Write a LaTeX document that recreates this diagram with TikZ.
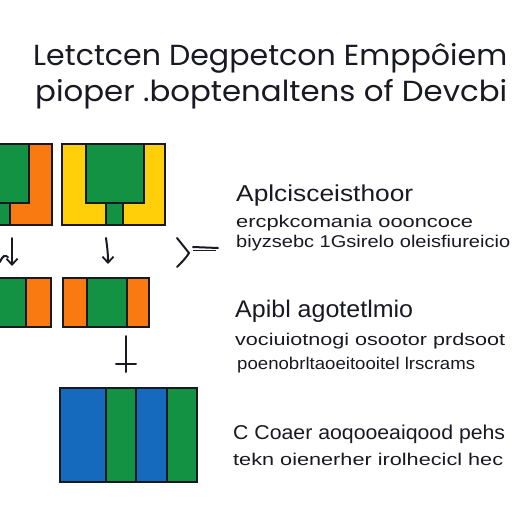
\documentclass[tikz,border=0pt]{standalone}
\usepackage{fontspec}
\setmainfont{Liberation Sans}
\newfontfamily\titlefont{Poppins}
\usetikzlibrary{arrows.meta}
\definecolor{gr}{RGB}{18,146,66}
\definecolor{orr}{RGB}{250,122,18}
\definecolor{yl}{RGB}{255,208,10}
\definecolor{bl}{RGB}{22,106,190}
\definecolor{ink}{RGB}{25,25,35}
\newcommand\wtext[3]{\resizebox{#1}{\height}{\fontsize{#2}{#2}\selectfont #3}}
\begin{document}
\begin{tikzpicture}[x=1pt,y=-1pt,
  box/.style={draw=ink,line width=2pt},
  txt/.style={anchor=base west,inner sep=0pt,text=ink},
  stroke/.style={draw=ink,line width=2pt,line cap=round},
  arr/.style={stroke,-{Straight Barb[length=6pt,width=11pt,line width=1.8pt]}}
]
\useasboundingbox (0,0) rectangle (512,512);
\fill[white] (0,0) rectangle (512,512);

% ---- title
\node[txt] (t1) at (33,65) {\titlefont\wtext{474pt}{29pt}{Letctcen Degpetcon Emppôiem}};
\node[txt] (t2) at (35,101) {\titlefont\wtext{472pt}{29pt}{pioper .boptenaltens of Devcbi}};

% ---- box 1 (top left)
\fill[orr] (-3,144) rectangle (52,225);
\fill[gr] (-3,144) rectangle (29,203);
\fill[gr] (-3,203) rectangle (10,225);
\draw[box] (-3,144) rectangle (29,203);
\draw[box] (10,203) -- (10,225);
\draw[box] (-3,144) rectangle (52,225);

% ---- box 2 (top middle)
\fill[yl] (62,144) rectangle (165,225);
\fill[gr] (86,144) rectangle (144,203);
\fill[gr] (106,203) rectangle (123,225);
\draw[box] (86,144) rectangle (144,203);
\draw[box] (106,203) rectangle (123,225);
\draw[box] (62,144) rectangle (165,225);

% ---- row 2 box A
\fill[gr] (-3,278) rectangle (26,327);
\fill[orr] (26,278) rectangle (51,327);
\draw[box] (26,278) -- (26,327);
\draw[box] (-3,278) rectangle (51,327);

% ---- row 2 box B
\fill[orr] (63,278) rectangle (87,327);
\fill[gr] (87,278) rectangle (127,327);
\fill[orr] (127,278) rectangle (149,327);
\draw[box] (87,278) -- (87,327);
\draw[box] (127,278) -- (127,327);
\draw[box] (63,278) rectangle (149,327);

% ---- bottom box
\fill[bl] (60,388) rectangle (106,482);
\fill[gr] (106,388) rectangle (136,482);
\fill[bl] (136,388) rectangle (167,482);
\fill[gr] (167,388) rectangle (197,482);
\draw[box] (106,388) -- (106,482);
\draw[box] (136,388) -- (136,482);
\draw[box] (167,388) -- (167,482);
\draw[box] (60,388) rectangle (197,482);

% ---- connectors
\coordinate (a1s) at (12,238);
\coordinate (a1e) at (12,266);
\draw[arr] (a1s) -- (a1e);
\coordinate (sq0) at (0,262);
\coordinate (sq1) at (8,257);
\draw[stroke] (sq0) .. controls (3,255) and (5,255) .. (sq1);

\coordinate (a2s) at (106,238);
\coordinate (a2e) at (108,264);
\draw[arr] (a2s) .. controls (107,246) and (108,252) .. (a2e);

\coordinate (f0) at (177,238);
\coordinate (f1) at (189,253);
\coordinate (f2) at (177,267);
\coordinate (f3) at (218,248);
\draw[stroke] (f0) -- (f1);
\draw[stroke] (f2) .. controls (182,262) and (186,258) .. (f1);
\draw[stroke] (193,247) -- (f3);
\draw[draw=ink,line width=1pt] (193,250) -- (216,250);

\coordinate (c0) at (126,336);
\coordinate (c1) at (126,372);
\coordinate (h0) at (116,364);
\coordinate (h1) at (136,364);
\draw[stroke] (c0) -- (c1);
\draw[stroke] (h0) -- (h1);

% ---- text block 1
\node[txt] (b1h) at (236,201) {\wtext{177pt}{23pt}{Aplcisceisthoor}};
\node[txt] (b1a) at (236,227) {\wtext{237pt}{17pt}{ercpkcomania oooncoce}};
\node[txt] (b1b) at (236,247) {\wtext{274pt}{17pt}{biyzsebc 1Gsirelo oleisfiureicio}};

% ---- text block 2
\node[txt] (b2h) at (235,317) {\wtext{178pt}{24pt}{Apibl agotetlmio}};
\node[txt] (b2a) at (235,345) {\wtext{270pt}{17pt}{vociuiotnogi osootor prdsoot}};
\node[txt] (b2b) at (237,369) {\wtext{238pt}{17pt}{poenobrltaoeitooitel lrscrams}};

% ---- text block 3
\node[txt] (b3h) at (233,439) {\wtext{272pt}{20pt}{C Coaer aoqooeaiqood pehs}};
\node[txt] (b3a) at (233,465) {\wtext{270pt}{17pt}{tekn oienerher irolhecicl hec}};
\end{tikzpicture}
\end{document}
